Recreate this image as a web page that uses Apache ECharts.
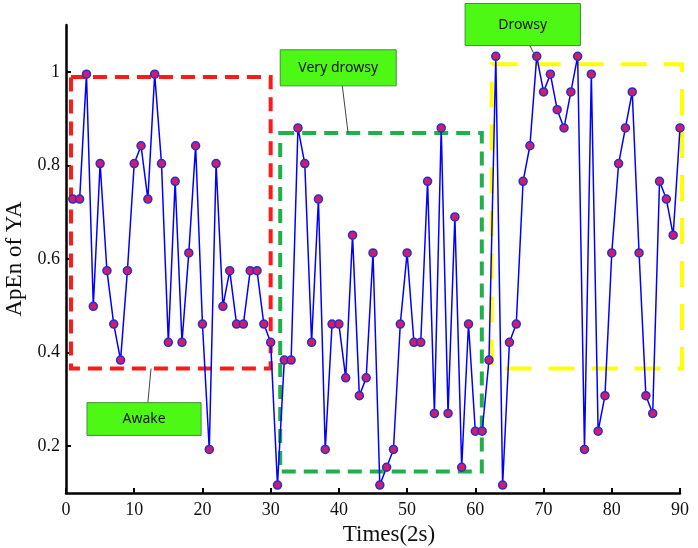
<!DOCTYPE html>
<html>
<head>
<meta charset="utf-8">
<script src="https://cdn.jsdelivr.net/npm/echarts@6/dist/echarts.min.js"></script>
<style>html,body{margin:0;padding:0;background:#fff;}#c{width:698px;height:548px;}</style>
</head>
<body>
<div id="c"></div>
<script>
// Time index (x, units of 2 s)
const times = [1,2,3,4,5,6,7,8,9,10,11,12,13,14,15,16,17,18,19,20,21,22,23,24,25,26,27,28,29,30,
  31,32,33,34,35,36,37,38,39,40,41,42,43,44,45,46,47,48,49,50,51,52,53,54,55,56,57,58,59,60,
  61,62,63,64,65,66,67,68,69,70,71,72,73,74,75,76,77,78,79,80,81,82,83,84,85,86,87,88,89,90];
// ApEn of YA values
const apen = [0.728,0.728,0.995,0.499,0.804,0.575,0.461,0.384,0.575,0.804,
  0.842,0.728,0.995,0.804,0.422,0.766,0.422,0.613,0.842,0.461,
  0.193,0.804,0.499,0.575,0.461,0.461,0.575,0.575,0.461,0.422,
  0.117,0.384,0.384,0.880,0.804,0.422,0.728,0.193,0.461,0.461,
  0.346,0.651,0.308,0.346,0.613,0.117,0.155,0.193,0.461,0.613,
  0.422,0.422,0.766,0.270,0.880,0.270,0.690,0.155,0.461,0.232,
  0.232,0.384,1.033,0.117,0.422,0.461,0.766,0.842,1.033,0.957,
  0.995,0.919,0.880,0.957,1.033,0.193,0.995,0.232,0.308,0.613,
  0.804,0.880,0.957,0.613,0.308,0.270,0.766,0.728,0.651,0.880];
const xTicks = [0,10,20,30,40,50,60,70,80,90];
const yTicks = [0.2,0.4,0.6,0.8,1];
// State regions [x0, x1, y0, y1] in data units
const regionNames = ['Awake','Very drowsy','Drowsy'];
const regionBoxes = [[0.73,30.0,0.366,0.989],[31.4,60.95,0.146,0.869],[62.4,90.3,0.366,1.016]];
const regionColors = ['#ff1a1a','#1fb04c','#ffff00'];
const regionDash = [[14,8],[14,8],[26,17]];
// Callout label boxes [x0, x1, y0, y1] and leader [xa, ya, xb, yb] in data units
const calloutBoxes = [[3.08,19.8,0.223,0.293],[31.4,48.4,0.970,1.047],[58.5,75.4,1.056,1.146]];
const calloutLeaders = [[12.0,0.293,12.46,0.366],[40.5,0.970,41.35,0.869],[68.0,1.056,68.8,1.032]];

const chart = echarts.init(document.getElementById('c'), null, {renderer:'canvas'});
const serif = 'Liberation Serif';
chart.setOption({
  animation:false,
  backgroundColor:'#fff',
  grid:{left:66,right:18,top:25,bottom:55,containLabel:false,outerBoundsMode:'none'},
  xAxis:{type:'value',min:0,max:90,interval:10,
    name:'Times(2s)',nameLocation:'middle',nameGap:26,
    nameTextStyle:{fontFamily:serif,fontSize:23,color:'#111',padding:[0,0,0,32]},
    axisLine:{lineStyle:{color:'#000',width:2.5}},
    axisTick:{inside:true,length:5,lineStyle:{color:'#000',width:2}},
    axisLabel:{fontFamily:serif,fontSize:18,color:'#111',margin:8},
    splitLine:{show:false}},
  yAxis:{type:'value',min:0.1,max:1.1,
    name:'ApEn of YA',nameLocation:'middle',nameGap:36,
    nameTextStyle:{fontFamily:serif,fontSize:23,color:'#111'},
    axisLine:{lineStyle:{color:'#000',width:2.5}},
    axisTick:{inside:true,length:5,lineStyle:{color:'#000',width:2},customValues:yTicks},
    axisLabel:{fontFamily:serif,fontSize:18,color:'#111',margin:6,customValues:yTicks,
      formatter:v=>String(Math.round(v*10)/10)},
    splitLine:{show:false}},
  series:[{type:'line',data:times.map((t,i)=>[t,apen[i]]),z:5,
    lineStyle:{color:'#0000ff',width:1.5},
    symbol:'circle',symbolSize:8,showSymbol:true,
    itemStyle:{color:'#cc1f6a',borderColor:'#2a2ad8',borderWidth:1.5}}]
});

function px(x,y){return chart.convertToPixel({gridIndex:0},[x,y]);}
const g = [];
regionBoxes.forEach((b,i)=>{
  const p0 = px(b[0],b[3]), p1 = px(b[1],b[2]);
  g.push({type:'rect',z:1,shape:{x:p0[0],y:p0[1],width:p1[0]-p0[0],height:p1[1]-p0[1]},
    style:{fill:'none',stroke:regionColors[i],lineWidth:4,lineDash:regionDash[i]}});
});
calloutBoxes.forEach((b,i)=>{
  const l = calloutLeaders[i];
  const a = px(l[0],l[1]), c = px(l[2],l[3]);
  g.push({type:'line',z:20,shape:{x1:a[0],y1:a[1],x2:c[0],y2:c[1]},style:{stroke:'#444',lineWidth:1}});
  const p0 = px(b[0],b[3]), p1 = px(b[1],b[2]);
  g.push({type:'rect',z:20,shape:{x:p0[0],y:p0[1],width:p1[0]-p0[0],height:p1[1]-p0[1]},
    style:{fill:'#4cf814',stroke:'#3f8f35',lineWidth:1}});
  g.push({type:'text',z:21,x:(p0[0]+p1[0])/2,y:(p0[1]+p1[1])/2,
    style:{text:regionNames[i],fill:'#111',font:'14px "Noto Sans"',align:'center',verticalAlign:'middle'}});
});
chart.setOption({graphic:g});
</script>
</body>
</html>
